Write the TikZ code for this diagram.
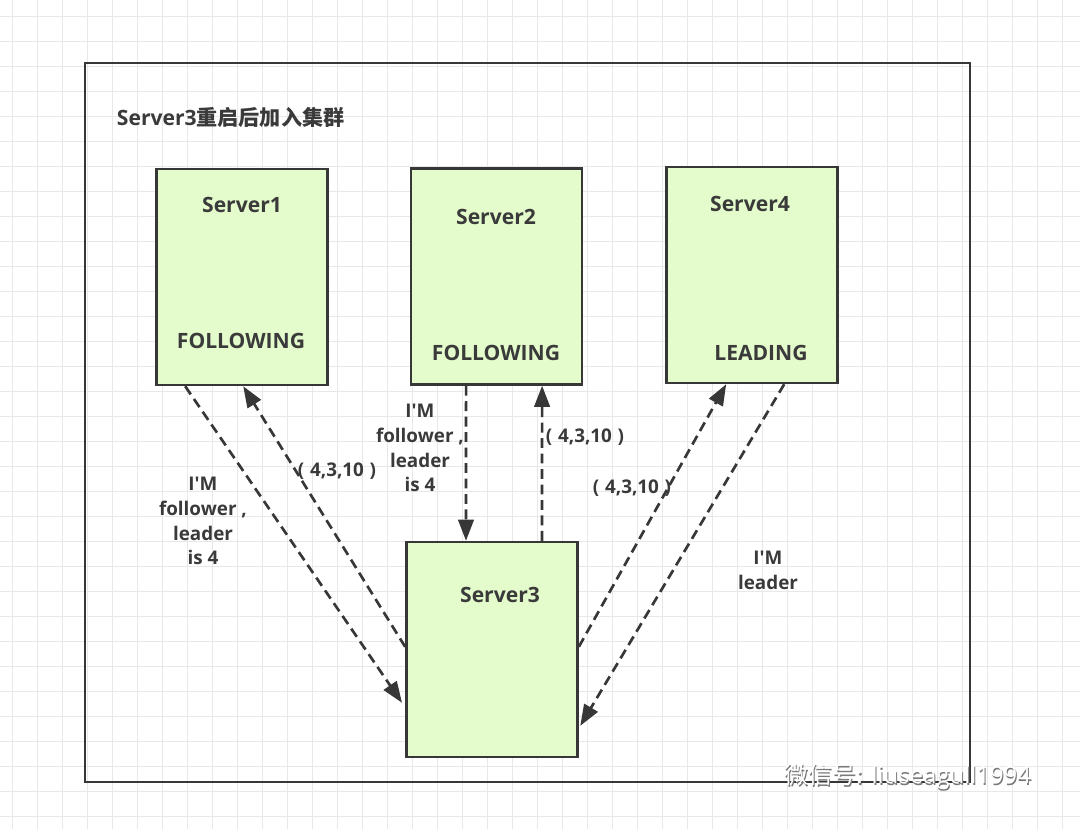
\documentclass[tikz,border=0pt]{standalone}
\usepackage{fontspec}
\setmainfont{Open Sans}
\newfontfamily\cjk{Noto Sans CJK SC}
\usetikzlibrary{arrows.meta, positioning}
\definecolor{gridgray}{RGB}{232, 232, 232}
\definecolor{boxgreen}{RGB}{228, 252, 204}
\definecolor{linegray}{RGB}{55, 55, 55}
\definecolor{textgray}{RGB}{58, 58, 58}
\definecolor{shadowgray}{RGB}{120, 120, 120}

\tikzset{
  server/.style={draw=linegray, line width=1.7pt, fill=boxgreen, inner sep=0pt,
    minimum width=4.28cm, minimum height=5.4cm},
  srvname/.style={font=\fontsize{15}{18}\selectfont\bfseries, text=textgray},
  msg/.style={linegray, line width=1.9pt, dash pattern=on 7pt off 4pt,
    -{Triangle[length=15pt, width=11pt]}},
  lbl/.style={font=\fontsize{13.4}{17.7}\selectfont\bfseries, text=textgray, align=center}
}

\begin{document}
\begin{tikzpicture}[x=0.025cm, y=-0.025cm]
  \useasboundingbox (0, 0) rectangle (1080, 829);
  \fill[white] (0, 0) rectangle (1080, 829);

  % background grid
  \foreach \gx in {12, 37, ..., 1080} \draw[gridgray, line width=0.7pt] (\gx, 0) -- (\gx, 829);
  \foreach \gy in {16, 41, ..., 829} \draw[gridgray, line width=0.7pt] (0, \gy) -- (1080, \gy);

  % cluster frame
  \draw[linegray, line width=2pt] (85, 63) rectangle (970, 782);
  \node[srvname, anchor=west] (title) at (112, 117) {Server3{\cjk\bfseries 重启后加入集群}};

  % servers
  \node[server] (s1) at (242, 277) {};
  \node[server] (s2) at (496.5, 276.5) {};
  \node[server] (s4) at (752, 275) {};
  \node[server, minimum height=5.375cm] (s3) at (492, 649.5) {};

  \node[srvname] (s1name) at (242, 205) {Server1};
  \node[srvname] (s1state) at (241, 341) {FOLLOWING};
  \node[srvname] (s2name) at (496, 217) {Server2};
  \node[srvname] (s2state) at (496, 353) {FOLLOWING};
  \node[srvname] (s4name) at (750, 204) {Server4};
  \node[srvname] (s4state) at (761, 353) {LEADING};
  \node[srvname] (s3name) at (500, 595) {Server3};

  % messages
  \draw[msg, shorten >=4pt] ([xshift=0.75cm]s1.south west) -- ([yshift=1.27cm]s3.south west);
  \draw[msg] ([yshift=-2.65cm]s3.north west) -- ([xshift=2.2cm]s1.south west);
  \draw[msg] ([xshift=-0.76cm]s2.south) -- ([xshift=-0.65cm]s3.north);
  \draw[msg] ([xshift=1.25cm]s3.north) -- ([xshift=1.14cm]s2.south);
  \draw[msg] ([yshift=-2.65cm]s3.north east) -- ([xshift=1.525cm]s4.south west);
  \draw[msg, shorten >=2pt] ([xshift=2.975cm]s4.south west) -- ([yshift=0.75cm]s3.south east);

  % labels
  \node[lbl] (l1) at (203, 521) {I\textquotesingle M\\follower ,\\leader\\is 4};
  \node[lbl] (l2) at (337, 471) {(\hspace{0.3em}4,3,10\hspace{0.3em})};
  \node[lbl] (l3) at (420, 448) {I\textquotesingle M\\follower ,\\leader\\is 4};
  \node[lbl] (l4) at (585, 437) {(\hspace{0.3em}4,3,10\hspace{0.3em})};
  \node[lbl] (l5) at (632, 488) {(\hspace{0.3em}4,3,10\hspace{0.3em})};
  \node[lbl] (l6) at (768, 570) {I\textquotesingle M\\leader};

  % watermark
  \node[font=\fontsize{17}{20}\selectfont, text=shadowgray] (markshadow) at (909, 778) {{\cjk 微信号:} liuseagull1994};
  \node[font=\fontsize{17}{20}\selectfont, text=white] (mark) at (908, 776.5) {{\cjk 微信号:} liuseagull1994};
\end{tikzpicture}
\end{document}
